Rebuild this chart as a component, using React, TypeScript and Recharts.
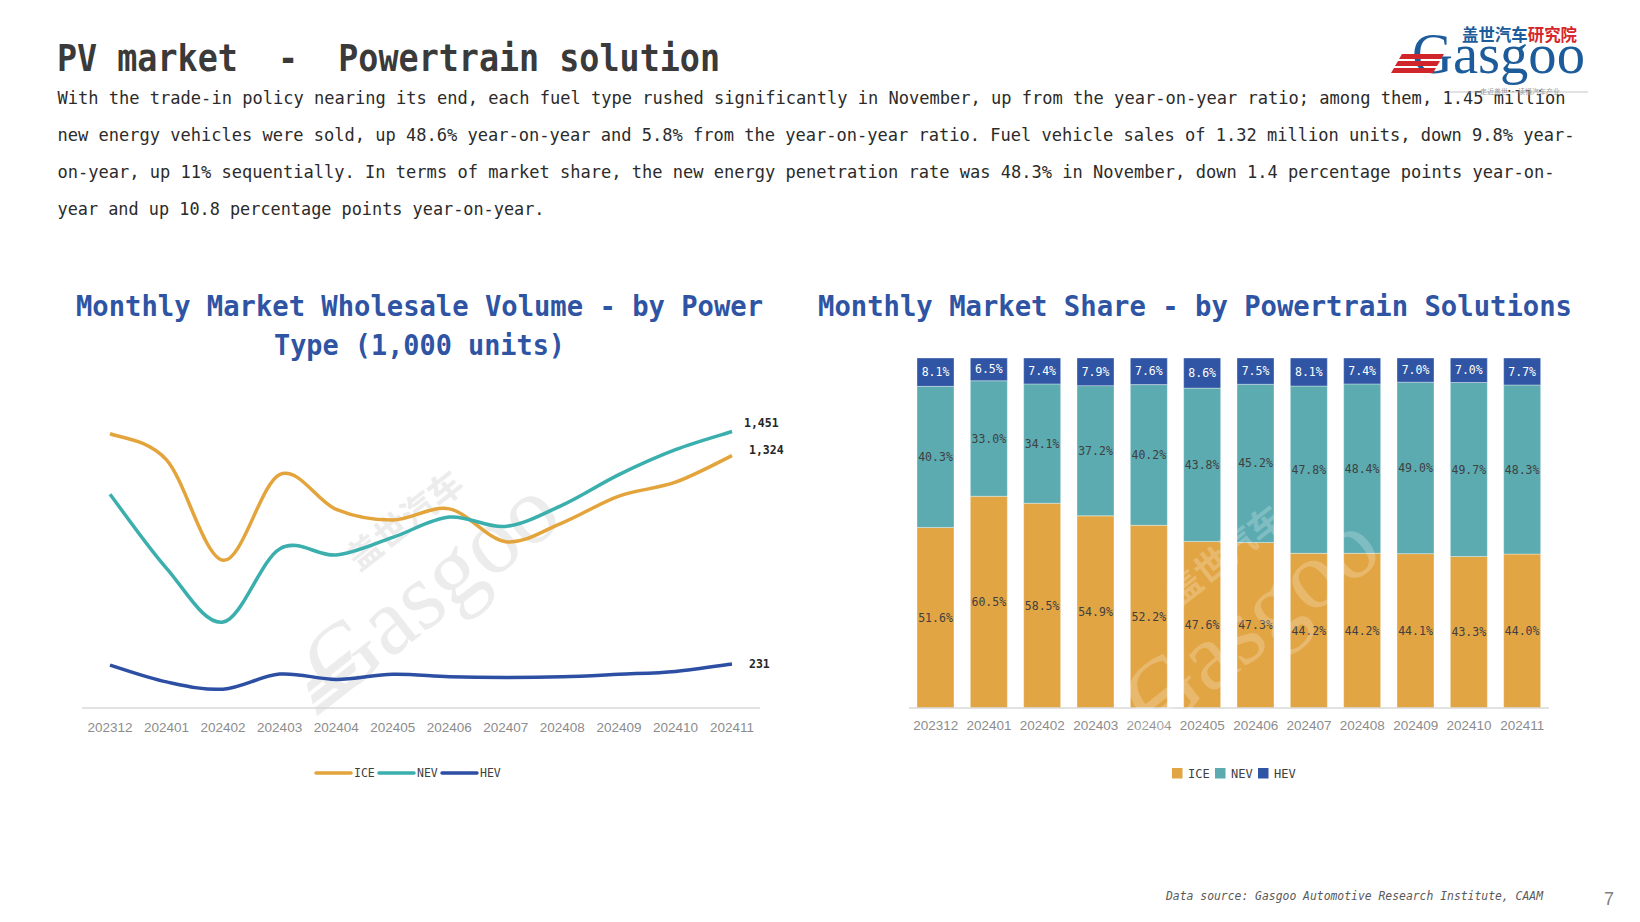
import React from "react";
import { LineChart, Line, XAxis, YAxis, BarChart, Bar, LabelList } from "recharts";

// ---------- data ----------
const months = ["202312", "202401", "202402", "202403", "202404", "202405", "202406", "202407", "202408", "202409", "202410", "202411"];
const iceVolume = [1440, 1302, 775, 1225, 1042, 986, 1045, 873, 972, 1112, 1185, 1324];
const nevVolume = [1122, 733, 451, 835, 803, 895, 1002, 953, 1065, 1225, 1356, 1451];
const hevVolume = [225, 137, 99, 178, 150, 177, 164, 160, 164, 177, 192, 231];

const iceShare = [51.6, 60.5, 58.5, 54.9, 52.2, 47.6, 47.3, 44.2, 44.2, 44.1, 43.3, 44.0];
const nevShare = [40.3, 33.0, 34.1, 37.2, 40.2, 43.8, 45.2, 47.8, 48.4, 49.0, 49.7, 48.3];
const hevShare = [8.1, 6.5, 7.4, 7.9, 7.6, 8.6, 7.5, 8.1, 7.4, 7.0, 7.0, 7.7];

const seriesNames = ["ICE", "NEV", "HEV"];

const pageTitle = "PV market  -  Powertrain solution";
const paragraphLines = [
  "With the trade-in policy nearing its end, each fuel type rushed significantly in November, up from the year-on-year ratio; among them, 1.45 million",
  "new energy vehicles were sold, up 48.6% year-on-year and 5.8% from the year-on-year ratio. Fuel vehicle sales of 1.32 million units, down 9.8% year-",
  "on-year, up 11% sequentially. In terms of market share, the new energy penetration rate was 48.3% in November, down 1.4 percentage points year-on-",
  "year and up 10.8 percentage points year-on-year.",
];
const lineTitle = ["Monthly Market Wholesale Volume - by Power", "Type (1,000 units)"];
const barTitle = "Monthly Market Share - by Powertrain Solutions";
const footerText = "Data source: Gasgoo Automotive Research Institute, CAAM";
const pageNumber = "7";

// ---------- styles ----------
const lineColors: Record<string, string> = { ICE: "#E3A43B", NEV: "#3AAFAD", HEV: "#2C4FA3" };
const barColors: Record<string, string> = { ICE: "#E2A544", NEV: "#5BABB1", HEV: "#2F55A4" };
const endLabelOffset: Record<string, { dx: number; dy: number }> = {
  ICE: { dx: 17, dy: -6 },
  NEV: { dx: 12, dy: -9 },
  HEV: { dx: 17, dy: 0 },
};
const MONO = "'DejaVu Sans Mono', 'Liberation Mono', monospace";
const SANS = "'Liberation Sans', Arial, sans-serif";
const TITLE_BLUE = "#2E54A3";

const lineData = months.map((m, i) => ({ month: m, ICE: iceVolume[i], NEV: nevVolume[i], HEV: hevVolume[i] }));
const barData = months.map((m, i) => ({ month: m, ICE: iceShare[i], NEV: nevShare[i], HEV: hevShare[i] }));

// Catmull-Rom style smoothing (similar to spreadsheet "smoothed line")
function smoothCurve(context: any) {
  let pts: number[][] = [];
  return {
    areaStart() {},
    areaEnd() {},
    lineStart() {
      pts = [];
    },
    lineEnd() {
      const n = pts.length;
      if (!n) return;
      context.moveTo(pts[0][0], pts[0][1]);
      const t = 1 / 6;
      for (let i = 0; i < n - 1; i++) {
        const p0 = pts[Math.max(0, i - 1)];
        const p1 = pts[i];
        const p2 = pts[i + 1];
        const p3 = pts[Math.min(n - 1, i + 2)];
        context.bezierCurveTo(
          p1[0] + (p2[0] - p0[0]) * t,
          p1[1] + (p2[1] - p0[1]) * t,
          p2[0] - (p3[0] - p1[0]) * t,
          p2[1] - (p3[1] - p1[1]) * t,
          p2[0],
          p2[1]
        );
      }
    },
    point(x: number, y: number) {
      pts.push([+x, +y]);
    },
  };
}

const makeEndLabel = (key: string, values: number[]) => (props: any) => {
  const vb = props.viewBox || {};
  const x = props.x ?? vb.x;
  const y = props.y ?? vb.y;
  const isLast = props.index !== undefined ? props.index === values.length - 1 : props.value === values[values.length - 1];
  if (!isLast || x == null || y == null) return null;
  const o = endLabelOffset[key];
  return (
    <text x={x + o.dx} y={y + o.dy} dy="0.35em" textAnchor="start" fontSize={11.5} fontWeight="bold" fontFamily={MONO} fill="#262626">
      {Number(props.value).toLocaleString("en-US")}
    </text>
  );
};

const makeBarLabel = (color: string) => (props: any) => {
  const vb = props.viewBox || {};
  const x = props.x ?? vb.x;
  const y = props.y ?? vb.y;
  const w = props.width ?? vb.width;
  const h = props.height ?? vb.height;
  let v = props.value;
  if (Array.isArray(v)) v = v[1] - v[0];
  return (
    <text x={x + w / 2} y={y + h / 2} dy="0.35em" textAnchor="middle" fontSize={11.5} fontFamily={MONO} fill={color}>
      {Number(v).toFixed(1) + "%"}
    </text>
  );
};

const Watermark = ({ cx, cy, fill, opacity }: { cx: number; cy: number; fill: string; opacity: number }) => (
  <g transform={`translate(${cx},${cy}) rotate(-38)`} opacity={opacity}>
    <text x={-40} y={-48} fontSize={34} fontWeight="bold" fontFamily="'Noto Sans CJK SC', sans-serif" fill={fill}>
      盖世汽车
    </text>
    {[0, 1, 2].map((i) => (
      <polygon key={i} points={`${-150 - i * 4},${8 + i * 12} ${-95 - i * 4},${8 + i * 12} ${-99 - i * 4},${16 + i * 12} ${-154 - i * 4},${16 + i * 12}`} fill={fill} />
    ))}
    <text x={-140} y={40} fontSize={96} fontFamily="'Liberation Serif', serif" fill={fill}>
      Gasgoo
    </text>
  </g>
);

export default function App() {
  return (
    <div style={{ position: "absolute", left: 0, top: 0, width: 1640, height: 922, background: "#ffffff", overflow: "hidden" }}>
      {/* header, titles, footer */}
      <svg width={1640} height={922} style={{ position: "absolute", left: 0, top: 0 }}>
        <Watermark cx={420} cy={585} fill="#ececec" opacity={1} />
        <text x={57} y={71} fontSize={38} fontWeight="bold" fontFamily={MONO} fill="#3a3a3a" textLength={663} lengthAdjust="spacingAndGlyphs" style={{ whiteSpace: "pre" }}>
          {pageTitle}
        </text>
        {paragraphLines.map((ln, i) => (
          <text key={i} x={57.5} y={104 + i * 37} fontSize={17} fontFamily={MONO} fill="#2b2b2b" textLength={[1508, 1517, 1497, 487][i]} lengthAdjust="spacingAndGlyphs">
            {ln}
          </text>
        ))}
        <text x={419.5} y={316} textAnchor="middle" fontSize={28} fontWeight="bold" fontFamily={MONO} fill={TITLE_BLUE} textLength={687} lengthAdjust="spacingAndGlyphs">
          {lineTitle[0]}
        </text>
        <text x={419.5} y={355} textAnchor="middle" fontSize={28} fontWeight="bold" fontFamily={MONO} fill={TITLE_BLUE} textLength={291} lengthAdjust="spacingAndGlyphs">
          {lineTitle[1]}
        </text>
        <text x={818} y={316} fontSize={28} fontWeight="bold" fontFamily={MONO} fill={TITLE_BLUE} textLength={754} lengthAdjust="spacingAndGlyphs">
          {barTitle}
        </text>

        {/* logo */}
        <text x={1462} y={41} fontSize={17} fontWeight="bold" fontFamily="'Noto Sans CJK SC', sans-serif" textLength={115} lengthAdjust="spacingAndGlyphs">
          <tspan fill="#1D5C9A">盖世汽车</tspan>
          <tspan fill="#D7262A">研究院</tspan>
        </text>
        <text x={1412} y={73} fontSize={56} fontFamily="'Liberation Serif', serif" fill="#1D5C9A" textLength={173} lengthAdjust="spacingAndGlyphs">
          Gasgoo
        </text>
        {[0, 1, 2].map((i) => (
          <polygon key={i} points={`${1402 - i * 4},${54 + i * 7} ${1444 - i * 4},${54 + i * 7} ${1441 - i * 4},${59 + i * 7} ${1399 - i * 4},${59 + i * 7}`} fill="#D0252B" />
        ))}
        <line x1={1449} y1={92} x2={1588} y2={92} stroke="#b5b5b5" strokeWidth={0.8} />
        <text x={1520} y={94} textAnchor="middle" fontSize={7} fontFamily="'Noto Sans CJK SC', sans-serif" fill="#9a9a9a">
          走近盖世 · 读懂汽车产业
        </text>

        {/* legends */}
        {seriesNames.map((s, i) => {
          const lx = [316, 379, 442][i];
          return (
            <g key={s}>
              <line x1={lx} y1={773} x2={lx + 35} y2={773} stroke={lineColors[s]} strokeWidth={3.5} strokeLinecap="round" />
              <text x={lx + 38} y={773} dy="0.35em" fontSize={11.5} fontFamily={MONO} fill="#404040">
                {s}
              </text>
            </g>
          );
        })}
        {seriesNames.map((s, i) => {
          const bx = [1172, 1215, 1258][i];
          return (
            <g key={s}>
              <rect x={bx} y={768} width={10.5} height={10.5} fill={barColors[s]} />
              <text x={bx + 16} y={773.5} dy="0.35em" fontSize={12} fontFamily={MONO} fill="#404040">
                {s}
              </text>
            </g>
          );
        })}

        <text x={1166} y={900} fontSize={12} fontStyle="italic" fontFamily={MONO} fill="#595959" textLength={377} lengthAdjust="spacingAndGlyphs">
          {footerText}
        </text>
        <text x={1609} y={905} textAnchor="middle" fontSize={18} fontFamily={SANS} fill="#808080">
          {pageNumber}
        </text>
      </svg>

      {/* line chart */}
      <div style={{ position: "absolute", left: 0, top: 350 }}>
        <LineChart width={800} height={400} data={lineData} margin={{ top: 15, right: 40, left: 82, bottom: 12 }}>
          <XAxis
            dataKey="month"
            scale="point"
            padding={{ left: 28, right: 28 }}
            interval={0}
            height={30}
            tickLine={false}
            tickMargin={8}
            axisLine={{ stroke: "#d9d9d9", strokeWidth: 1.5 }}
            tick={{ fill: "#8c8c8c", fontSize: 13.5, fontFamily: SANS }}
          />
          <YAxis hide domain={[0, 1800]} />
          {seriesNames.map((s) => (
            <Line
              key={s}
              dataKey={s}
              type={smoothCurve as any}
              stroke={lineColors[s]}
              strokeWidth={3.5}
              dot={false}
              activeDot={false}
              isAnimationActive={false}
            >
              <LabelList dataKey={s} content={makeEndLabel(s, lineData.map((d: any) => d[s])) as any} />
            </Line>
          ))}
        </LineChart>
      </div>

      {/* bar chart */}
      <div style={{ position: "absolute", left: 860, top: 340 }}>
        <BarChart width={720} height={400} data={barData} margin={{ top: 18, right: 31, left: 49, bottom: 2 }} barSize={37}>
          <XAxis
            dataKey="month"
            interval={0}
            height={30}
            tickLine={false}
            tickMargin={6}
            axisLine={{ stroke: "#d9d9d9", strokeWidth: 1.5 }}
            tick={{ fill: "#8c8c8c", fontSize: 13.5, fontFamily: SANS }}
          />
          <YAxis hide domain={[0, 100]} allowDataOverflow />
          {seriesNames.map((s) => (
            <Bar key={s} dataKey={s} stackId="share" fill={barColors[s]} stroke="#ffffff" strokeOpacity={0.35} strokeWidth={1} isAnimationActive={false}>
              <LabelList dataKey={s} content={makeBarLabel(s === "HEV" ? "#ffffff" : "#404040") as any} />
            </Bar>
          ))}
        </BarChart>
      </div>

      {/* watermark over bars */}
      <svg width={1640} height={922} style={{ position: "absolute", left: 0, top: 0, pointerEvents: "none" }}>
        <Watermark cx={1240} cy={620} fill="#ffffff" opacity={0.22} />
      </svg>
    </div>
  );
}
